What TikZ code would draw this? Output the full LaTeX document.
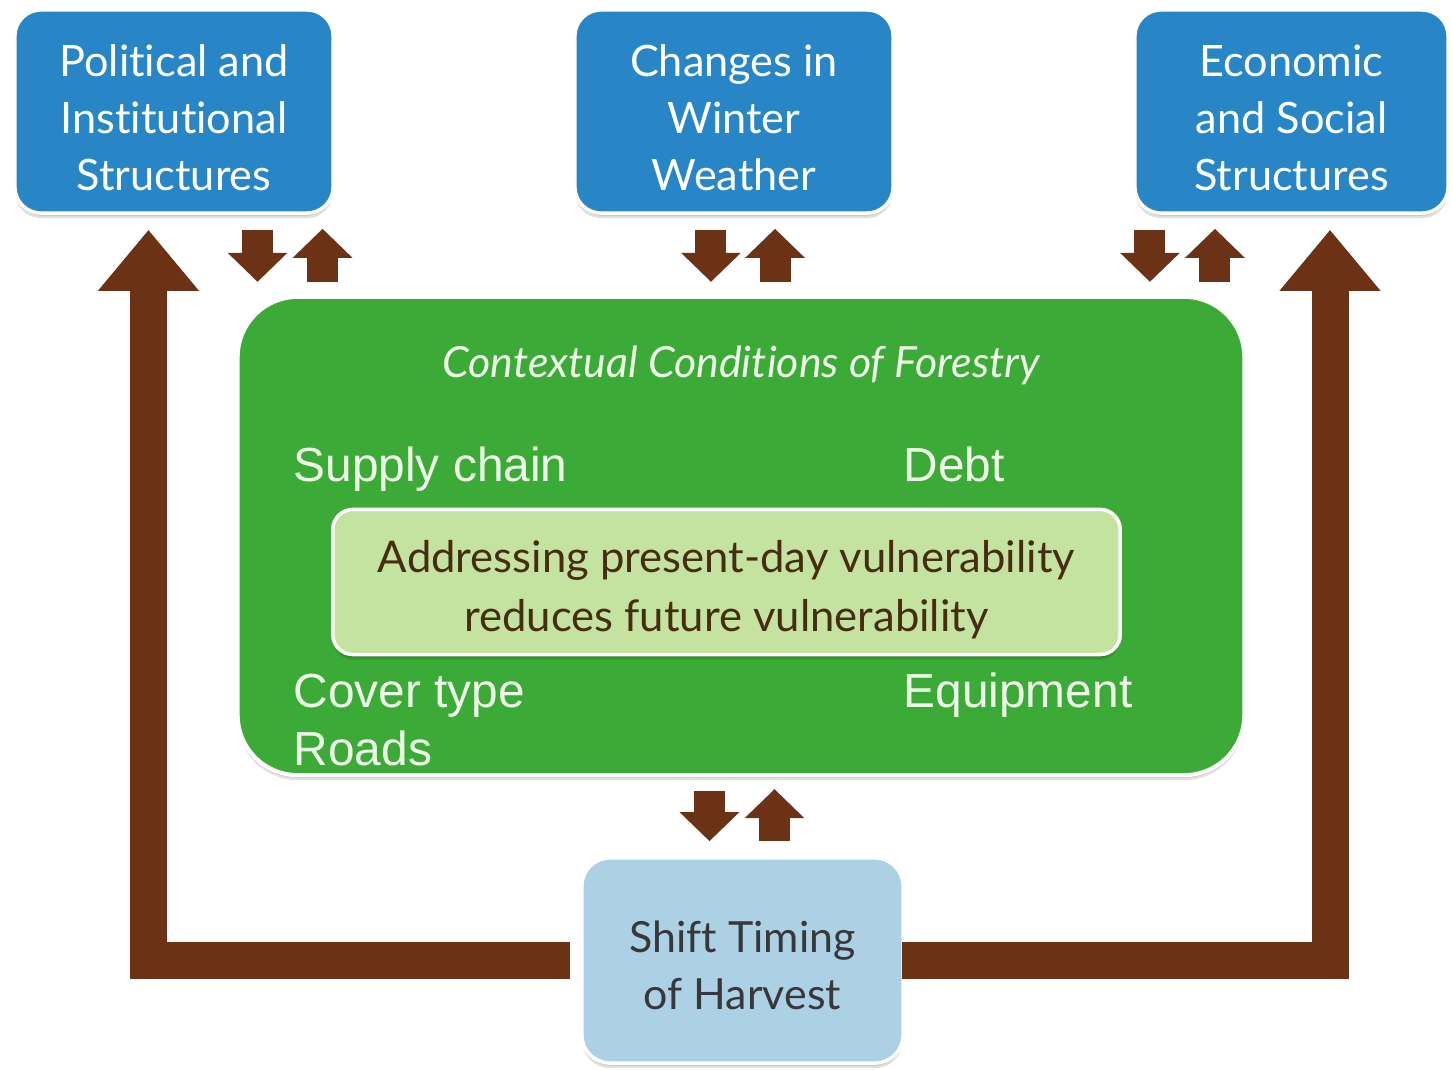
\documentclass[tikz,border=0pt]{standalone}
\usepackage{fontspec}
\newfontfamily\gill[Ligatures={NoCommon}]{Lato}
\newfontfamily\arial{Liberation Sans}
\usetikzlibrary{arrows.meta,shadows}

\definecolor{boxblue}{RGB}{40,134,198}
\definecolor{paleblue}{RGB}{172,209,228}
\definecolor{forest}{RGB}{60,170,55}
\definecolor{palegreen}{RGB}{197,227,160}
\definecolor{bark}{RGB}{108,50,22}
\definecolor{innertext}{RGB}{70,45,15}
\definecolor{greytext}{RGB}{55,55,60}
\definecolor{labeltext}{RGB}{238,250,232}

\tikzset{
  softshadow/.style={
    drop shadow={shadow xshift=0cm, shadow yshift=-0.05cm, opacity=0.12, fill=black},
    drop shadow={shadow xshift=0cm, shadow yshift=-0.025cm, opacity=0.15, fill=black}},
  boxtext/.style={inner sep=0pt, align=center},
  factorbox/.style={rectangle, rounded corners=0.26cm, draw=white, line width=0.035cm,
    fill=boxblue, softshadow, inner sep=0pt,
    minimum width=3.18cm, minimum height=2.03cm},
  factortext/.style={boxtext, text=white, font=\gill\fontsize{12.3}{16.2}\selectfont},
  contextbox/.style={rectangle, rounded corners=0.6cm, draw=white, line width=0.04cm,
    fill=forest, softshadow, inner sep=0pt, minimum width=10.06cm, minimum height=4.78cm},
  messagebox/.style={rectangle, rounded corners=0.2cm, draw=white, line width=0.035cm,
    fill=palegreen, softshadow, inner sep=0pt,
    minimum width=7.87cm, minimum height=1.45cm},
  messagetext/.style={boxtext, text=innertext, font=\gill\fontsize{12.4}{16.8}\selectfont},
  actionbox/.style={rectangle, rounded corners=0.28cm, draw=white, line width=0.035cm,
    fill=paleblue, softshadow, inner sep=0pt,
    minimum width=3.21cm, minimum height=2.05cm},
  actiontext/.style={boxtext, text=greytext, font=\gill\fontsize{12.2}{16.4}\selectfont},
  condlabel/.style={anchor=base west, inner sep=0pt, text=labeltext,
    font=\arial\fontsize{13.6}{15}\selectfont},
  smallarr/.style={draw=bark, line width=0.31cm,
    -{Triangle[width=0.58cm, length=0.29cm]}},
  bigarr/.style={draw=bark, line width=0.37cm, line join=miter,
    -{Triangle[width=0.97cm, length=0.61cm]}},
}

\begin{document}
\begin{tikzpicture}[x=0.01cm, y=-0.01cm]
\useasboundingbox (0,0) rectangle (1453,1070);

% outer driving factors
\node[factorbox] (pol) at (174,111.5) {};
\node[factortext] (poltext) at ([yshift=-0.06cm]pol.center) {Political and\\Institutional\\Structures};
\node[factorbox] (wx) at (734,111.5) {};
\node[factortext] (wxtext) at ([yshift=-0.06cm]wx.center) {Changes in\\Winter\\Weather};
\node[factorbox, minimum width=3.13cm] (eco) at (1291.5,111.5) {};
\node[factortext] (ecotext) at ([yshift=-0.06cm]eco.center) {Economic\\and Social\\Structures};

% forestry context with its conditions
\node[contextbox] (ctx) at (741,536) {};
\node[text=labeltext, inner sep=0pt, font=\gill\itshape\fontsize{12.2}{16}\selectfont]
  (ctxtitle) at (741,365) {Contextual Conditions of Forestry};
\node[condlabel] (supply) at (293,482) {Supply chain};
\node[condlabel] (debt)   at (903,482) {Debt};
\node[condlabel] (cover)  at (293,708) {Cover type};
\node[condlabel] (equip)  at (903,708) {Equipment};
\node[condlabel] (roads)  at (293,766) {Roads};
\node[messagebox] (msg) at (726.5,582) {};
\node[messagetext] (msgtext) at ([yshift=-0.08cm]msg.center)
  {Addressing present-day vulnerability\\reduces future vulnerability};

% adaptation option
\node[actionbox] (shift) at (742.5,960.5) {};
\node[actiontext] (shifttext) at ([yshift=-0.05cm]shift.center) {Shift Timing\\of Harvest};

% two-way links between the factors and the context
\draw[smallarr, shorten <=0.15cm, shorten >=0.13cm]
  ([xshift=0.835cm]pol.south) -- ([xshift=0.835cm]pol.south |- ctx.north);
\draw[smallarr, shorten <=0.13cm, shorten >=0.14cm]
  ([xshift=1.485cm]pol.south |- ctx.north) -- ([xshift=1.485cm]pol.south);
\draw[smallarr, shorten <=0.15cm, shorten >=0.13cm]
  ([xshift=-0.23cm]wx.south) -- ([xshift=-0.23cm]wx.south |- ctx.north);
\draw[smallarr, shorten <=0.13cm, shorten >=0.14cm]
  ([xshift=0.41cm]wx.south |- ctx.north) -- ([xshift=0.41cm]wx.south);
\draw[smallarr, shorten <=0.15cm, shorten >=0.13cm]
  ([xshift=-1.415cm]eco.south) -- ([xshift=-1.415cm]eco.south |- ctx.north);
\draw[smallarr, shorten <=0.13cm, shorten >=0.14cm]
  ([xshift=-0.765cm]eco.south |- ctx.north) -- ([xshift=-0.765cm]eco.south);

% two-way link between the context and the adaptation option
\draw[smallarr, shorten <=0.14cm, shorten >=0.15cm]
  ([xshift=-0.315cm]ctx.south) -- ([xshift=-0.315cm]ctx.south |- shift.north);
\draw[smallarr, shorten <=0.15cm, shorten >=0.12cm]
  ([xshift=0.335cm]ctx.south |- shift.north) -- ([xshift=0.335cm]ctx.south);

% feedback from the adaptation option to the structures
\draw[bigarr, shorten <=0.1cm]
  (shift.west) -| ([xshift=-0.255cm, yshift=-0.15cm]pol.south);
\draw[bigarr, shorten <=-0.03cm]
  (shift.east) -| ([xshift=0.385cm, yshift=-0.15cm]eco.south);
\end{tikzpicture}
\end{document}
